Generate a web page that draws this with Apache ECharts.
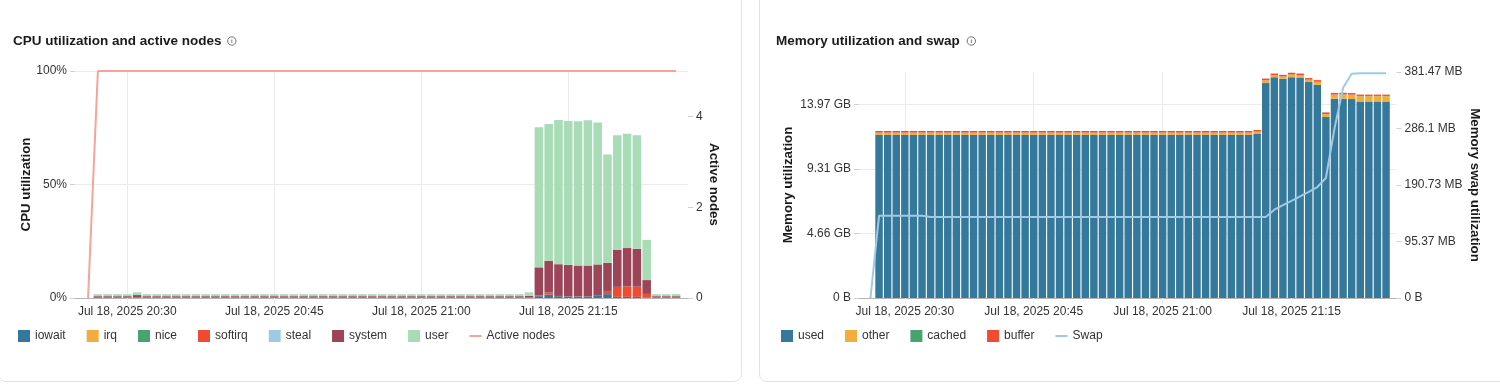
<!DOCTYPE html>
<html><head><meta charset="utf-8">
<script src="https://cdn.jsdelivr.net/npm/echarts@6/dist/echarts.min.js"></script>
<style>
html,body{margin:0;padding:0;background:#fff;width:1500px;height:384px;overflow:hidden;}
.panel{position:absolute;border:1px solid #e3e3e3;border-radius:8px;background:#fff;box-sizing:border-box;}
#chart{position:absolute;left:0;top:0;width:1500px;height:384px;}
</style></head><body>
<div class="panel" style="left:-2px;top:-12px;width:744px;height:394px;"></div>
<div class="panel" style="left:759px;top:-12px;width:760px;height:394px;"></div>
<div id="chart"></div>
<script>
// ---- time stamps (Jul 18, 2025) ----
const dateLabel = 'Jul 18, 2025';
const times = ['20:26','20:27','20:28','20:29','20:30','20:31','20:32','20:33','20:34','20:35',
'20:36','20:37','20:38','20:39','20:40','20:41','20:42','20:43','20:44','20:45',
'20:46','20:47','20:48','20:49','20:50','20:51','20:52','20:53','20:54','20:55',
'20:56','20:57','20:58','20:59','21:00','21:01','21:02','21:03','21:04','21:05',
'21:06','21:07','21:08','21:09','21:10','21:11','21:12','21:13','21:14','21:15',
'21:16','21:17','21:18','21:19','21:20','21:21','21:22','21:23','21:24','21:25','21:26'];
const axisStart = '20:24:40';
const axisEnd = '21:27:13';

// ---- CPU utilization (%) ----
const iowait = [null,0.2,0.2,0.2,0.2,0.2,0.2,0.2,0.2,0.2,
0.2,0.2,0.2,0.2,0.2,0.2,0.2,0.2,0.2,0.2,
0.2,0.2,0.2,0.2,0.2,0.2,0.2,0.2,0.2,0.2,
0.2,0.2,0.2,0.2,0.2,0.2,0.2,0.2,0.2,0.2,
0.2,0.2,0.2,0.2,0.2,0.2,0.8,1.5,0.8,0.7,
0.7,0.7,0.9,1.7,0.5,0.5,0.5,0.3,0.2,0.2,0.2];
const irq = [null,0,0,0,0,0,0,0,0,0, 0,0,0,0,0,0,0,0,0,0, 0,0,0,0,0,0,0,0,0,0,
0,0,0,0,0,0,0,0,0,0, 0,0,0,0,0,0,0,0,0,0, 0,0,0,0,0,0,0,0,0,0,0];
const nice = [null,0,0,0,0,0,0,0,0,0, 0,0,0,0,0,0,0,0,0,0, 0,0,0,0,0,0,0,0,0,0,
0,0,0,0,0,0,0,0,0,0, 0,0,0,0,0,0,0,0,0,0, 0,0,0,0,0,0,0,0,0,0,0];
const softirq = [null,0,0,0,0,0,0,0,0,0, 0,0,0,0,0,0,0,0,0,0, 0,0,0,0,0,0,0,0,0,0,
0,0,0,0,0,0,0,0,0,0, 0,0,0,0,0,0,0.3,1.0,0.1,0.1,
0.1,0.1,0.1,1.4,4.4,4.6,4.5,1.5,0,0,0];
const steal = [null,0,0,0,0,0,0,0,0,0, 0,0,0,0,0,0,0,0,0,0, 0,0,0,0,0,0,0,0,0,0,
0,0,0,0,0,0,0,0,0,0, 0,0,0,0,0,0,0,0,0,0, 0,0,0,0,0,0,0,0,0,0,0];
const system = [null,0.6,0.6,0.6,0.6,1.1,0.6,0.6,0.6,0.6,
0.6,0.6,0.6,0.6,0.6,0.6,0.6,0.6,0.6,0.6,
0.6,0.6,0.6,0.6,0.6,0.6,0.6,0.6,0.6,0.6,
0.6,0.6,0.6,0.6,0.6,0.6,0.6,0.6,0.6,0.6,
0.6,0.6,0.6,0.6,0.6,0.8,12.4,13.9,14.0,13.8,
13.5,13.5,13.8,12.4,16.3,16.9,16.7,6.1,0.6,0.6,0.6];
const user = [null,0.9,0.9,0.9,0.9,1.2,0.9,0.9,0.9,0.9,
0.9,0.9,0.9,0.9,0.9,0.9,0.9,0.9,0.9,0.9,
0.9,0.9,0.9,0.9,0.9,0.9,0.9,0.9,0.9,0.9,
0.9,0.9,0.9,0.9,0.9,0.9,0.9,0.9,0.9,0.9,
0.9,0.9,0.9,0.9,0.9,1.5,61.7,60.3,63.5,63.4,
63.6,64.0,62.5,47.7,50.5,50.4,50.0,17.7,0.9,0.9,0.9];
const activeNodes = [0,5,5,5,5,5,5,5,5,5, 5,5,5,5,5,5,5,5,5,5, 5,5,5,5,5,5,5,5,5,5,
5,5,5,5,5,5,5,5,5,5, 5,5,5,5,5,5,5,5,5,5, 5,5,5,5,5,5,5,5,5,5,5];
const cpuTicks = [0, 50, 100];
const nodeTicks = [0, 2, 4];
const nodeAxisMax = 5;

// ---- Memory (GB = 1e9 bytes) ----
const used = [null,12.62,12.62,12.62,12.62,12.62,12.62,12.62,12.62,12.62,
12.62,12.62,12.62,12.62,12.62,12.62,12.62,12.62,12.62,12.62,
12.62,12.62,12.62,12.62,12.62,12.62,12.62,12.62,12.62,12.62,
12.62,12.62,12.62,12.62,12.62,12.62,12.62,12.62,12.62,12.62,
12.62,12.62,12.62,12.62,12.62,12.70,16.64,17.10,16.97,17.10,
17.07,16.72,16.51,14.01,15.43,15.43,15.40,15.22,15.22,15.22,15.22];
const other = [null,0.17,0.17,0.17,0.17,0.17,0.17,0.17,0.17,0.17,
0.17,0.17,0.17,0.17,0.17,0.17,0.17,0.17,0.17,0.17,
0.17,0.17,0.17,0.17,0.17,0.17,0.17,0.17,0.17,0.17,
0.17,0.17,0.17,0.17,0.17,0.17,0.17,0.17,0.17,0.17,
0.17,0.17,0.17,0.17,0.17,0.17,0.20,0.15,0.17,0.20,
0.17,0.17,0.22,0.22,0.31,0.32,0.33,0.41,0.41,0.41,0.41];
const cached = [null,0.02,0.02,0.02,0.02,0.02,0.02,0.02,0.02,0.02,
0.02,0.02,0.02,0.02,0.02,0.02,0.02,0.02,0.02,0.02,
0.02,0.02,0.02,0.02,0.02,0.02,0.02,0.02,0.02,0.02,
0.02,0.02,0.02,0.02,0.02,0.02,0.02,0.02,0.02,0.02,
0.02,0.02,0.02,0.02,0.02,0.02,0.02,0.02,0.02,0.02,
0.02,0.02,0.02,0.02,0.02,0.02,0.02,0.02,0.02,0.02,0.02];
const buffer = [null,0.12,0.12,0.12,0.12,0.12,0.12,0.12,0.12,0.12,
0.12,0.12,0.12,0.12,0.12,0.12,0.12,0.12,0.12,0.12,
0.12,0.12,0.12,0.12,0.12,0.12,0.12,0.12,0.12,0.12,
0.12,0.12,0.12,0.12,0.12,0.12,0.12,0.12,0.12,0.12,
0.12,0.12,0.12,0.12,0.12,0.12,0.13,0.11,0.12,0.12,
0.12,0.12,0.12,0.12,0.12,0.12,0.12,0.10,0.10,0.10,0.10];
// swap in units of 1e8 bytes
const swap = [0,1.457,1.457,1.457,1.457,1.457,1.457,1.432,1.432,1.432,
1.432,1.432,1.432,1.432,1.432,1.432,1.432,1.432,1.432,1.432,
1.432,1.432,1.432,1.432,1.432,1.432,1.432,1.432,1.432,1.432,
1.432,1.432,1.432,1.432,1.432,1.432,1.432,1.432,1.432,1.432,
1.432,1.432,1.432,1.432,1.432,1.432,1.432,1.563,1.642,1.72,
1.80,1.88,1.964,2.124,3.0,3.72,3.97,3.98,3.98,3.98,3.98];
const memTicksGB = [0, 5, 10, 15];
const memAxisMaxGB = 17.5;
const swapTicks = [0, 1, 2, 3, 4];

// ---- helpers ----
// x positions are expressed in quarter-hours so that the axis' own nice ticks fall on :00/:15/:30/:45
function qh(hms){ const p = hms.split(':').map(Number); return (p[0]*60 + p[1] + (p[2]||0)/60) / 15; }
const X = times.map(qh);
// bar data: [value, x] with encode so that the stacked dimension is the value
function barData(arr, scale){ return arr.map((v,i)=>[v==null?null:v*scale, X[i]]); }
function lineData(arr, scale){ return arr.map((v,i)=>[X[i], v*scale]); }
function pad(n){ return (n<10?'0':'')+n; }
function fmtTime(v){ const mins = Math.round(v*15); return dateLabel+' '+pad(Math.floor(mins/60))+':'+pad(mins%60); }
function fmtBytes(v){
  if (v===0) return '0 B';
  const units=['B','KB','MB','GB','TB']; let i=0; let x=v;
  while (x>=1024 && i<units.length-1){ x/=1024; i++; }
  return parseFloat(x.toFixed(2))+' '+units[i];
}

const FONT = '"Liberation Sans", Arial, Helvetica, sans-serif';
const C = { iowait:'#34799b', irq:'#f4ad3c', nice:'#47a470', softirq:'#ee4b31', steal:'#9dcbe6', system:'#9c4458', user:'#a8dcb6', active:'#f4a49c', swap:'#9ecae6' };
const gridLine = '#ebebeb';
const labelColor = '#333';

function timeAxis(gi){
  return { type:'value', gridIndex:gi, min:qh(axisStart), max:qh(axisEnd),
    minInterval:1, maxInterval:1, splitNumber:4,
    axisLine:{show:true, lineStyle:{color:'#b5b5b5'}},
    axisTick:{show:true, length:6, lineStyle:{color:gridLine}},
    splitLine:{show:true, showMinLine:false, showMaxLine:false, lineStyle:{color:gridLine}},
    axisLabel:{color:labelColor, fontSize:12, fontFamily:FONT, formatter:fmtTime, showMinLabel:false, showMaxLabel:false}
  };
}
const nameStyle = {color:'#1a1a1a', fontSize:13.3, fontWeight:'bold', fontFamily:FONT};
const tickStyle = {show:true, length:5, lineStyle:{color:'#d0d0d0'}};

function bar(name, data, color, xi, yi, stack, scale){
  return { name, type:'bar', stack, xAxisIndex:xi, yAxisIndex:yi, data:barData(data, scale||1),
    encode:{x:1, y:0}, barWidth:'87%', itemStyle:{color}, emphasis:{disabled:true} };
}

const option = {
  animation:false,
  textStyle:{fontFamily:FONT},
  grid:[
    {left:75, top:71, width:613, height:227},
    {left:859, top:72, width:537.5, height:226}
  ],
  xAxis:[timeAxis(0), timeAxis(1)],
  yAxis:[
    { type:'value', gridIndex:0, min:cpuTicks[0], max:cpuTicks[cpuTicks.length-1], interval:cpuTicks[1]-cpuTicks[0],
      name:'CPU utilization', nameLocation:'middle', nameGap:41, nameTextStyle:nameStyle,
      axisLine:{show:false}, axisTick:tickStyle,
      splitLine:{show:true, lineStyle:{color:gridLine}},
      axisLabel:{color:labelColor, fontSize:12, formatter:'{value}%'} },
    { type:'value', gridIndex:0, position:'right', min:nodeTicks[0], max:nodeAxisMax, interval:nodeTicks[1]-nodeTicks[0],
      name:'Active nodes', nameLocation:'middle', nameGap:19, nameRotate:-90, nameTextStyle:nameStyle,
      axisLine:{show:false}, axisTick:tickStyle, splitLine:{show:false},
      axisLabel:{color:labelColor, fontSize:12, showMaxLabel:false} },
    { type:'value', gridIndex:1, min:0, max:memAxisMaxGB*1e9, interval:(memTicksGB[1]-memTicksGB[0])*1e9,
      name:'Memory utilization', nameLocation:'middle', nameGap:64, nameTextStyle:nameStyle,
      axisLine:{show:false}, axisTick:tickStyle,
      splitLine:{show:true, showMaxLine:false, lineStyle:{color:gridLine}},
      axisLabel:{color:labelColor, fontSize:12, showMaxLabel:false, formatter:fmtBytes} },
    { type:'value', gridIndex:1, position:'right', min:0, max:swapTicks[swapTicks.length-1]*1e8, interval:(swapTicks[1]-swapTicks[0])*1e8,
      name:'Memory swap utilization', nameLocation:'middle', nameGap:72, nameRotate:-90, nameTextStyle:nameStyle,
      axisLine:{show:false}, axisTick:tickStyle, splitLine:{show:false},
      axisLabel:{color:labelColor, fontSize:12, formatter:fmtBytes} }
  ],
  legend:[
    { left:13, top:325, itemWidth:12, itemHeight:12, itemGap:21, icon:'rect',
      textStyle:{color:labelColor, fontSize:12, fontFamily:FONT},
      data:['iowait','irq','nice','softirq','steal','system','user',{name:'Active nodes', icon:'path://M0,5H12V7H0Z'}] },
    { left:776, top:325, itemWidth:12, itemHeight:12, itemGap:21, icon:'rect',
      textStyle:{color:labelColor, fontSize:12, fontFamily:FONT},
      data:['used','other','cached','buffer',{name:'Swap', icon:'path://M0,5H12V7H0Z'}] }
  ],
  graphic:[
    {type:'text', left:13, top:34, style:{text:'CPU utilization and active nodes', font:'bold 13.5px '+FONT, fill:'#1a1a1a'}},
    {type:'circle', shape:{cx:231.8, cy:41, r:4.2}, style:{fill:'none', stroke:'#707070', lineWidth:1}},
    {type:'text', x:231.8, y:41.3, style:{text:'i', font:'bold 6px '+FONT, fill:'#707070', align:'center', verticalAlign:'middle'}},
    {type:'text', left:776, top:34, style:{text:'Memory utilization and swap', font:'bold 13.5px '+FONT, fill:'#1a1a1a'}},
    {type:'circle', shape:{cx:971.3, cy:41, r:4.2}, style:{fill:'none', stroke:'#707070', lineWidth:1}},
    {type:'text', x:971.3, y:41.3, style:{text:'i', font:'bold 6px '+FONT, fill:'#707070', align:'center', verticalAlign:'middle'}}
  ],
  series:[
    bar('iowait', iowait, C.iowait, 0, 0, 'cpu'),
    bar('irq', irq, C.irq, 0, 0, 'cpu'),
    bar('nice', nice, C.nice, 0, 0, 'cpu'),
    bar('softirq', softirq, C.softirq, 0, 0, 'cpu'),
    bar('steal', steal, C.steal, 0, 0, 'cpu'),
    bar('system', system, C.system, 0, 0, 'cpu'),
    bar('user', user, C.user, 0, 0, 'cpu'),
    { name:'Active nodes', type:'line', xAxisIndex:0, yAxisIndex:1, data:lineData(activeNodes,1),
      symbol:'none', lineStyle:{color:C.active, width:2}, itemStyle:{color:C.active}, z:3 },
    bar('used', used, C.iowait, 1, 2, 'mem', 1e9),
    bar('other', other, C.irq, 1, 2, 'mem', 1e9),
    bar('cached', cached, C.nice, 1, 2, 'mem', 1e9),
    bar('buffer', buffer, C.softirq, 1, 2, 'mem', 1e9),
    { name:'Swap', type:'line', xAxisIndex:1, yAxisIndex:3, data:lineData(swap,1e8),
      symbol:'none', lineStyle:{color:C.swap, width:2}, itemStyle:{color:C.swap}, z:3 }
  ]
};
const chart = echarts.init(document.getElementById('chart'), null, {renderer:'canvas'});
chart.setOption(option);
</script>
</body></html>
